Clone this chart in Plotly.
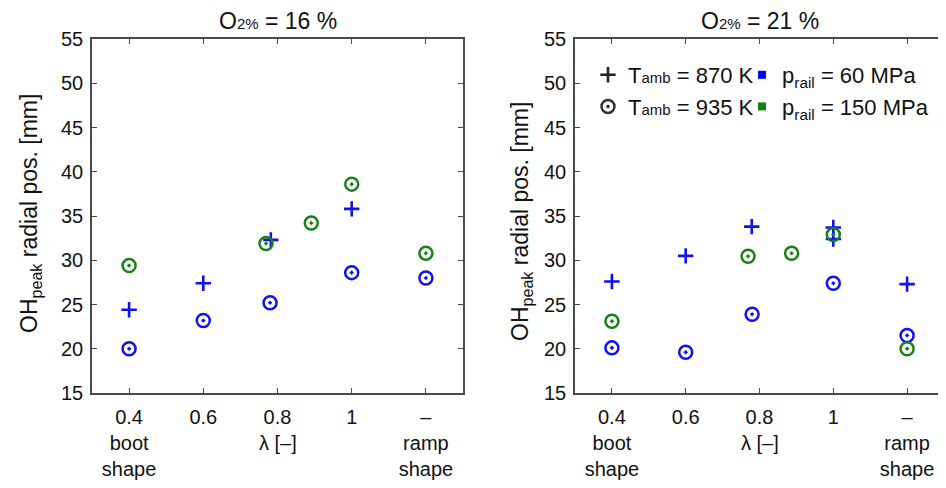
import plotly.graph_objects as go

# ---------------- data ----------------
lam_tickvals = [0.4, 0.6, 0.8, 1.0, 1.2]
lam_ticktext = ["0.4<br>boot<br>shape", "0.6", "0.8", "1", "–<br>ramp<br>shape"]
y_tickvals = [15, 20, 25, 30, 35, 40, 45, 50, 55]

# O2 = 16 %
o16_p60_t870_x = [0.4, 0.6, 0.782, 1.0]
o16_p60_t870_y = [24.4, 27.4, 32.3, 35.8]
o16_p60_t935_x = [0.4, 0.6, 0.780, 1.0, 1.2]
o16_p60_t935_y = [20.0, 23.2, 25.2, 28.6, 28.0]
o16_p150_t935_x = [0.4, 0.769, 0.891, 1.0, 1.2]
o16_p150_t935_y = [29.4, 31.9, 34.2, 38.6, 30.8]

# O2 = 21 %
o21_p60_t870_x = [0.4, 0.6, 0.779, 1.0, 1.0, 1.2]
o21_p60_t870_y = [27.6, 30.5, 33.8, 33.7, 32.4, 27.3]
o21_p60_t935_x = [0.4, 0.6, 0.780, 1.0, 1.2]
o21_p60_t935_y = [20.1, 19.6, 23.9, 27.4, 21.5]
o21_p150_t935_x = [0.4, 0.769, 0.887, 1.0, 1.2]
o21_p150_t935_y = [23.1, 30.45, 30.8, 32.9, 20.0]

panel_titles = ["O<span style='font-size:15px'>2%</span> = 16 %",
                "O<span style='font-size:15px'>2%</span> = 21 %"]
y_title = "OH<sub>peak</sub> radial pos. [mm]"
x_title = "λ [–]"
legend_T = ["T<span style='font-size:15px'>amb</span> = 870 K",
            "T<span style='font-size:15px'>amb</span> = 935 K"]
legend_p = ["p<sub>rail</sub> = 60 MPa", "p<sub>rail</sub> = 150 MPa"]

# ---------------- style ----------------
BLUE = "#1010f0"
GREEN = "#1a801a"
FONT = "Liberation Sans, Arial, sans-serif"
AXC = "#4a4a4a"
TXT = "#111111"

plus_marker = lambda c: dict(symbol="cross-thin-open", size=11, color=c, line=dict(width=2.6, color=c))
circ_marker = lambda c: dict(symbol="circle-open-dot", size=13, color=c, line=dict(width=2.5, color=c))

fig = go.Figure()

panels = [
    ("x", "y", o16_p60_t870_x, o16_p60_t870_y, o16_p60_t935_x, o16_p60_t935_y, o16_p150_t935_x, o16_p150_t935_y),
    ("x2", "y2", o21_p60_t870_x, o21_p60_t870_y, o21_p60_t935_x, o21_p60_t935_y, o21_p150_t935_x, o21_p150_t935_y),
]
for xa, ya, px, py, cx, cy, gx, gy in panels:
    fig.add_trace(go.Scatter(x=px, y=py, mode="markers", marker=plus_marker(BLUE),
                             xaxis=xa, yaxis=ya, showlegend=False, cliponaxis=False))
    fig.add_trace(go.Scatter(x=cx, y=cy, mode="markers", marker=circ_marker(BLUE),
                             xaxis=xa, yaxis=ya, showlegend=False, cliponaxis=False))
    fig.add_trace(go.Scatter(x=gx, y=gy, mode="markers", marker=circ_marker(GREEN),
                             xaxis=xa, yaxis=ya, showlegend=False, cliponaxis=False))

# legend entries (key glyphs only)
fig.add_trace(go.Scatter(x=[None], y=[None], mode="markers", name=legend_T[0],
                         marker=plus_marker("#222222"), xaxis="x2", yaxis="y2",
                         legend="legend", legendgroup="a"))
fig.add_trace(go.Scatter(x=[None], y=[None], mode="markers", name=legend_T[1],
                         marker=circ_marker("#333333"), xaxis="x2", yaxis="y2",
                         legend="legend", legendgroup="b"))
fig.add_trace(go.Scatter(x=[None], y=[None], mode="markers", name=legend_p[0],
                         marker=dict(symbol="square", size=8, color="#0000ff"), xaxis="x2", yaxis="y2",
                         legend="legend2", legendgroup="c"))
fig.add_trace(go.Scatter(x=[None], y=[None], mode="markers", name=legend_p[1],
                         marker=dict(symbol="square", size=8, color="#138013"), xaxis="x2", yaxis="y2",
                         legend="legend2", legendgroup="d"))

W, H = 946, 488
OFF = 8  # page body margin offset of the rendered figure


def px_x(v):
    return (v - OFF) / W


def px_y(v):
    return 1 - (v - OFF) / H


ydom = [px_y(393), px_y(39)]
xdom1 = [px_x(92), px_x(463)]
xdom2 = [px_x(575), px_x(944)]


def xaxis(dom, anchor):
    return dict(domain=dom, anchor=anchor, range=[0.3, 1.3], tickmode="array",
                tickvals=lam_tickvals, ticktext=lam_ticktext, ticks="inside", ticklen=5,
                tickwidth=1.2, tickcolor=AXC, showline=True, linecolor=AXC, linewidth=1.6,
                mirror="ticks", showgrid=False, zeroline=False, automargin=False,
                ticklabelstandoff=5,
                tickfont=dict(family=FONT, size=20, color=TXT))


def yaxis(anchor):
    return dict(domain=ydom, anchor=anchor, range=[15, 55], tickmode="array",
                tickvals=y_tickvals, ticks="inside", ticklen=5, tickwidth=1.2, tickcolor=AXC,
                showline=True, linecolor=AXC, linewidth=1.6, mirror="ticks",
                showgrid=False, zeroline=False, automargin=False, ticklabelstandoff=3,
                tickfont=dict(family=FONT, size=20, color=TXT))


annotations = []
for i, (cx, xref) in enumerate([((92 + 463) / 2, "x"), ((575 + 944) / 2, "x2")]):
    annotations.append(dict(text=panel_titles[i], x=px_x(cx), y=px_y(21), xref="paper", yref="paper",
                            showarrow=False, xanchor="center", yanchor="middle",
                            font=dict(family=FONT, size=23, color=TXT)))
    annotations.append(dict(text=x_title, x=0.8, y=px_y(443), xref=xref, yref="paper",
                            showarrow=False, xanchor="center", yanchor="middle",
                            font=dict(family=FONT, size=20, color=TXT)))
for xc, yc in [(30, 214), (521, 222)]:
    annotations.append(dict(text=y_title, x=px_x(xc), y=px_y(yc), xref="paper", yref="paper",
                            showarrow=False, textangle=-90, xanchor="center", yanchor="middle",
                            font=dict(family=FONT, size=23, color=TXT)))

legend_common = dict(bgcolor="rgba(0,0,0,0)", borderwidth=0, tracegroupgap=0,
                     font=dict(family=FONT, size=22, color=TXT),
                     xanchor="left", yanchor="top", xref="paper", yref="paper",
                     itemclick=False, itemdoubleclick=False)

fig.update_layout(
    width=W, height=H, autosize=False,
    margin=dict(l=0, r=0, t=0, b=0, autoexpand=False),
    paper_bgcolor="white", plot_bgcolor="white",
    xaxis=xaxis(xdom1, "y"), yaxis=yaxis("x"),
    xaxis2=xaxis(xdom2, "y2"), yaxis2=yaxis("x2"),
    annotations=annotations,
    legend=dict(x=px_x(588), y=px_y(54), **legend_common),
    legend2=dict(x=px_x(742), y=px_y(54), **legend_common),
    font=dict(family=FONT),
)

fig.write_html("out.html")
